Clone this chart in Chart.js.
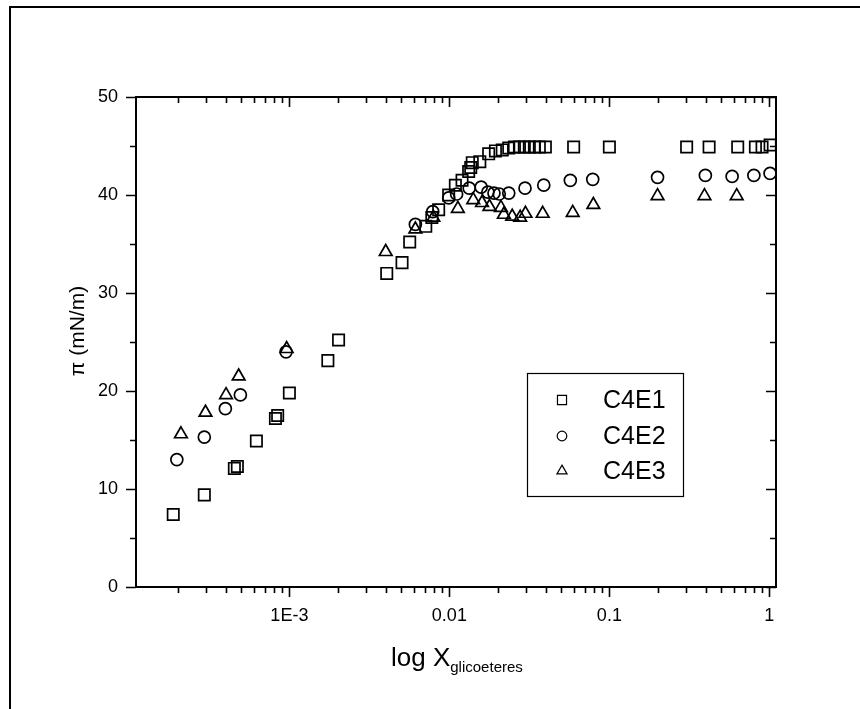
<!DOCTYPE html>
<html>
<head>
<meta charset="utf-8">
<script src="https://cdn.jsdelivr.net/npm/chart.js@4.4.1/dist/chart.umd.min.js"></script>
<style>
    body { margin: 0; background: #fff; }
    #wrap { position: relative; width: 860px; height: 709px; }
    #frame { position: absolute; left: 9px; top: 6px; right: 0; bottom: 0; border-left: 2px solid #000; border-top: 2px solid #000; }
    #xTitle { position: absolute; left: 391px; top: 642px; font-family: 'Liberation Sans', Arial, sans-serif; font-size: 26px; color: #000; white-space: nowrap; }
    #xTitle sub { font-size: 15px; vertical-align: -6px; }
</style>
</head>
<body>
<div id="wrap">
    <div id="frame"></div>
    <canvas id="surfaceChart" width="860" height="709"></canvas>
    <div id="xTitle">log X<sub>glicoeteres</sub></div>
</div>
<script>
    // C4E1 (squares)
    const xC4E1 = [1.88e-4, 2.94e-4, 4.53e-4, 4.73e-4, 6.22e-4, 8.18e-4, 8.45e-4, 1.0e-3, 1.74e-3, 2.03e-3,
        4.06e-3, 5.06e-3, 5.65e-3, 7.12e-3, 7.77e-3, 8.57e-3, 9.9e-3, 1.09e-2, 1.2e-2, 1.32e-2,
        1.36e-2, 1.39e-2, 1.55e-2, 1.76e-2, 1.94e-2, 2.14e-2, 2.35e-2, 2.55e-2, 2.74e-2, 2.94e-2,
        3.16e-2, 3.4e-2, 3.65e-2, 3.98e-2, 5.98e-2, 0.1, 0.304, 0.42, 0.634, 0.818, 0.9, 1.01];
    const yC4E1 = [7.4, 9.4, 12.1, 12.3, 14.9, 17.2, 17.5, 19.8, 23.1, 25.2,
        32.0, 33.1, 35.2, 36.8, 37.7, 38.5, 40.0, 41.0, 41.5, 42.4,
        42.8, 43.3, 43.4, 44.2, 44.5, 44.6, 44.8, 44.9, 44.9, 44.9,
        44.9, 44.9, 44.9, 44.9, 44.9, 44.9, 44.9, 44.9, 44.9, 44.9, 44.9, 45.1];

    // C4E2 (circles)
    const xC4E2 = [1.98e-4, 2.94e-4, 3.98e-4, 4.94e-4, 9.53e-4, 6.13e-3, 7.87e-3, 9.9e-3, 1.11e-2, 1.33e-2,
        1.58e-2, 1.74e-2, 1.9e-2, 2.05e-2, 2.35e-2, 2.97e-2, 3.89e-2, 5.7e-2, 7.87e-2, 0.2,
        0.398, 0.585, 0.8, 1.01];
    const yC4E2 = [13.0, 15.3, 18.2, 19.6, 24.0, 37.0, 38.3, 39.7, 40.1, 40.7,
        40.8, 40.3, 40.2, 40.1, 40.2, 40.7, 41.0, 41.5, 41.6, 41.8,
        42.0, 41.9, 42.0, 42.2];

    // C4E3 (triangles)
    const xC4E3 = [2.1e-4, 2.99e-4, 4.02e-4, 4.82e-4, 9.62e-4, 4.0e-3, 6.13e-3, 7.94e-3, 1.13e-2, 1.41e-2,
        1.6e-2, 1.78e-2, 2.1e-2, 2.19e-2, 2.47e-2, 2.77e-2, 2.99e-2, 3.83e-2, 5.9e-2, 7.94e-2,
        0.2, 0.393, 0.625];
    const yC4E3 = [15.6, 17.8, 19.6, 21.5, 24.3, 34.2, 36.5, 37.7, 38.6, 39.5,
        39.2, 38.8, 38.7, 38.0, 37.8, 37.7, 38.1, 38.1, 38.2, 39.0,
        39.9, 39.9, 39.9];

    const seriesNames = ['C4E1', 'C4E2', 'C4E3'];
    const xMajorTicks = [1e-3, 1e-2, 0.1, 1];
    const xMajorLabels = ['1E-3', '0.01', '0.1', '1'];
    const yTicks = [0, 10, 20, 30, 40, 50];
    const yTitle = 'π (mN/m)';

    const FONT = "'Liberation Sans', Arial, sans-serif";

    const toPoints = (xs, ys) => xs.map((x, i) => ({ x: x, y: ys[i] }));

    function markerDataset(label, xs, ys, style, radius) {
        return {
            label: label,
            data: toPoints(xs, ys),
            showLine: false,
            pointStyle: style,
            pointRadius: radius,
            pointHoverRadius: radius,
            pointBorderWidth: 1.7,
            pointBorderColor: '#000',
            pointBackgroundColor: 'rgba(0,0,0,0)'
        };
    }

    // top/right axis lines plus tick marks, and the rotated y title
    const frameTicks = {
        id: 'frameTicks',
        afterDraw(chart) {
            const { ctx, chartArea: a, scales } = chart;
            const xs = scales.x, ys = scales.y;
            ctx.save();
            ctx.strokeStyle = '#000';
            ctx.lineWidth = 2;
            ctx.beginPath();
            ctx.moveTo(a.left, a.top); ctx.lineTo(a.right, a.top); ctx.lineTo(a.right, a.bottom);
            ctx.stroke();

            ctx.lineWidth = 1.6;
            ctx.beginPath();
            for (let e = -4; e <= 0; e++) {
                for (let m = 1; m <= 9; m++) {
                    const v = m * Math.pow(10, e);
                    if (v < xs.min || v > xs.max) continue;
                    const px = Math.round(xs.getPixelForValue(v)) + 0.5;
                    const len = m === 1 ? 10 : 6;
                    ctx.moveTo(px, a.bottom); ctx.lineTo(px, a.bottom + len);
                    ctx.moveTo(px, a.top); ctx.lineTo(px, a.top + len);
                }
            }
            for (let v = 0; v <= 50; v += 5) {
                const py = Math.round(ys.getPixelForValue(v)) + 0.5;
                const len = v % 10 === 0 ? 10 : 6;
                ctx.moveTo(a.left, py); ctx.lineTo(a.left - len, py);
                ctx.moveTo(a.right, py); ctx.lineTo(a.right - len, py);
            }
            ctx.stroke();

            ctx.translate(a.left - 58, a.top + 234);
            ctx.rotate(-Math.PI / 2);
            ctx.font = '21px ' + FONT;
            ctx.fillStyle = '#000';
            ctx.textAlign = 'center';
            ctx.textBaseline = 'middle';
            ctx.fillText(yTitle, 0, 0);
            ctx.restore();
        }
    };

    // boxed legend inside the plot
    const boxLegend = {
        id: 'boxLegend',
        afterDraw(chart) {
            const { ctx, chartArea: a } = chart;
            const bx = a.left + 391, by = a.top + 276, bw = 156, bh = 123;
            ctx.save();
            ctx.strokeStyle = '#000';
            ctx.lineWidth = 1.2;
            ctx.strokeRect(bx + 0.5, by + 0.5, bw, bh);
            ctx.font = '25px ' + FONT;
            ctx.textBaseline = 'middle';
            const rows = [27, 63, 98];
            chart.data.datasets.forEach((ds, i) => {
                const y = by + rows[i];
                ctx.fillStyle = 'rgba(0,0,0,0)';
                ctx.strokeStyle = '#000';
                Chart.helpers.drawPoint(ctx, { pointStyle: ds.pointStyle, radius: ds.pointRadius * 0.8, borderWidth: 1.5, rotation: 0 }, bx + 35, y);
                ctx.fillStyle = '#000';
                ctx.fillText(ds.label, bx + 76, y + 1);
            });
            ctx.restore();
        }
    };

    new Chart(document.getElementById('surfaceChart'), {
        type: 'scatter',
        data: {
            datasets: [
                markerDataset(seriesNames[0], xC4E1, yC4E1, 'rect', 8),
                markerDataset(seriesNames[1], xC4E2, yC4E2, 'circle', 6),
                markerDataset(seriesNames[2], xC4E3, yC4E3, 'triangle', 7.3)
            ]
        },
        options: {
            responsive: false,
            animation: false,
            devicePixelRatio: 1,
            layout: { padding: { left: 60, right: 84, top: 97, bottom: 62 } },
            plugins: { legend: { display: false }, tooltip: { enabled: false } },
            scales: {
                x: {
                    type: 'logarithmic',
                    position: 'bottom',
                    min: 1.1e-4,
                    max: 1.1,
                    grid: { display: false },
                    border: { display: true, color: '#000', width: 2 },
                    ticks: {
                        autoSkip: false,
                        maxRotation: 0,
                        padding: 10,
                        color: '#000',
                        font: { family: FONT, size: 18 },
                        callback: (value) => {
                            const i = xMajorTicks.findIndex(t => Math.abs(Math.log10(value) - Math.log10(t)) < 1e-6);
                            return i >= 0 ? xMajorLabels[i] : '';
                        }
                    },
                    afterFit: (s) => { s.height = 60; }
                },
                y: {
                    min: 0,
                    max: 50,
                    grid: { display: false },
                    border: { display: true, color: '#000', width: 2 },
                    afterBuildTicks: (s) => { s.ticks = yTicks.map(v => ({ value: v })); },
                    ticks: {
                        padding: 10,
                        color: '#000',
                        font: { family: FONT, size: 18 }
                    },
                    afterFit: (s) => { s.width = 76; }
                }
            }
        },
        plugins: [frameTicks, boxLegend]
    });
</script>
</body>
</html>
